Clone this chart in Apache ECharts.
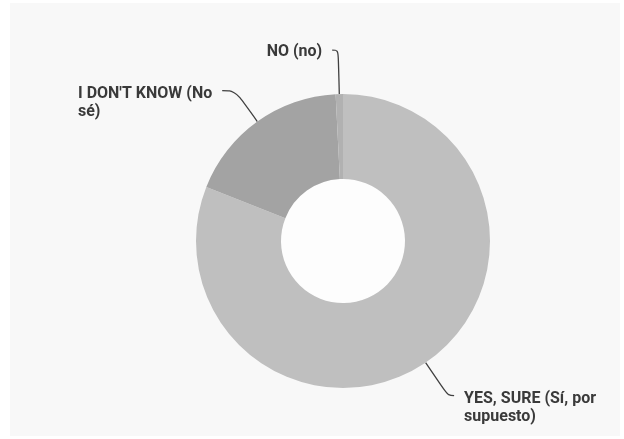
<!DOCTYPE html>
<html style="height: 100%">
<head>
<meta charset="utf-8">
<script type="text/javascript" src="https://cdn.jsdelivr.net/npm/echarts@6/dist/echarts.min.js"></script>
</head>
<body style="height: 100%; margin: 0; background: #ffffff">
<div id="container" style="width: 624px; height: 439px"></div>
<script type="text/javascript">
// answers, clockwise from 12 o'clock
var NAMES = ['YES, SURE (Sí, por supuesto)', "I DON'T KNOW (No sé)", 'NO (no)'];
var LABELS = [['YES, SURE (Sí, por', 'supuesto)'], ["I DON'T KNOW (No", 'sé)'], ['NO (no)']];
var VALUES = [81.0, 18.2, 0.8];
var COLORS = ['#bfbfbf', '#a3a3a3', '#b1b1b1'];
// leader line lengths per slice [radial, horizontal]
var LINE_LEN = [[40, 6], [38, 13], [44, 6]];

var FONT = 'Roboto, "Liberation Sans", Arial, sans-serif';
var LH = 18;

var pieData = [];
for (var i = 0; i < NAMES.length; i++) {
    pieData.push({
        name: NAMES[i],
        value: VALUES[i],
        itemStyle: {color: COLORS[i]},
        label: {padding: [LABELS[i].length > 1 ? LH + 6 : 3, 0, 0, 0]},
        labelLine: {length: LINE_LEN[i][0], length2: LINE_LEN[i][1]}
    });
}

var dom = document.getElementById('container');
var myChart = echarts.init(dom);
var option = {
    backgroundColor: '#ffffff',
    animation: false,
    graphic: {
        elements: [{
            type: 'rect',
            z: -10,
            shape: {x: 10, y: 3, width: 610, height: 433},
            style: {fill: '#f8f8f8'}
        }]
    },
    series: [{
        type: 'pie',
        silent: true,
        center: [343, 241],
        radius: [0, 62],
        z: 1,
        label: {show: false},
        labelLine: {show: false},
        itemStyle: {color: '#fdfdfd'},
        data: [1]
    }, {
        type: 'pie',
        center: [343, 241],
        radius: [62, 147],
        startAngle: 90,
        clockwise: true,
        avoidLabelOverlap: false,
        z: 2,
        itemStyle: {borderWidth: 0},
        label: {
            show: true,
            position: 'outside',
            distanceToLabelLine: 10,
            fontFamily: FONT,
            fontSize: 16,
            fontWeight: 'bold',
            color: '#3a3a3a',
            lineHeight: LH,
            formatter: function (p) {
                return LABELS[p.dataIndex].map(function (s) { return '{t|' + s + '}'; }).join('\n');
            },
            rich: {
                t: {
                    align: 'left',
                    fontFamily: FONT,
                    fontSize: 16,
                    fontWeight: 'bold',
                    color: '#3a3a3a',
                    lineHeight: LH
                }
            }
        },
        labelLine: {
            show: true,
            smooth: 0.4,
            lineStyle: {color: '#404040', width: 1.3}
        },
        data: pieData
    }]
};
myChart.setOption(option, true);
</script>
</body>
</html>
